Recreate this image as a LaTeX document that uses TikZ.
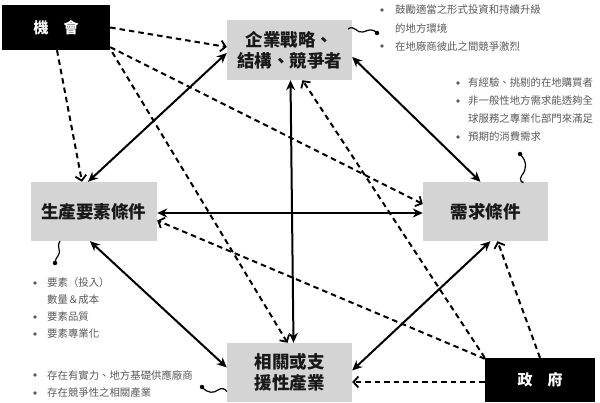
\documentclass[tikz,border=0pt]{standalone}
\usepackage{fontspec}
\newfontfamily\cjk{Noto Sans CJK TC}
\usetikzlibrary{arrows.meta,calc}
\definecolor{boxgray}{RGB}{212,212,212}
\definecolor{notegray}{RGB}{90,90,90}
\definecolor{labelink}{RGB}{25,25,25}
\tikzset{
  fbox/.style={fill=boxgray, draw=none, inner sep=0pt, font=\cjk\bfseries\fontsize{17.5}{21}\selectfont, text=labelink, align=center},
  bbox/.style={fill=black, draw=none, inner sep=0pt, text=white, font=\cjk\bfseries\fontsize{15}{18}\selectfont},
  link/.style={line width=2pt, {Stealth[length=10pt,width=9pt]}-{Stealth[length=10pt,width=9pt]}},
  infl/.style={line width=2pt, dash pattern=on 5.5pt off 4pt, -{Straight Barb[length=5pt,width=11pt,line width=1.8pt]}},
  note/.style={anchor=west, inner sep=0pt, font=\cjk\fontsize{10.4}{12}\selectfont, text=notegray},
  bul/.style={circle, fill=notegray, draw=none, inner sep=0pt, minimum size=3.8pt},
  tipdot/.style={circle, fill=black, draw=none, inner sep=0pt, minimum size=4.5pt},
  squig/.style={line width=1.2pt, black}
}
\begin{document}
\begin{tikzpicture}[x=1pt,y=-1pt]
\useasboundingbox (0,0) rectangle (600,402);
\fill[white] (0,0) rectangle (600,402);

% boxes
\node[bbox, minimum width=108pt, minimum height=45pt] (jh) at (56,27.5) {機　會};
\node[fbox, minimum width=125pt, minimum height=60pt] (qy) at (289.5,50) {企業戰略、\\結構、競爭者};
\node[fbox, minimum width=126pt, minimum height=59pt] (sc) at (94,211.5) {生產要素條件};
\node[fbox, minimum width=125pt, minimum height=59pt] (xq) at (485.5,211.5) {需求條件};
\node[fbox, minimum width=125pt, minimum height=59pt] (xg) at (289.5,372.5) {相關或支\\援性產業};
\node[bbox, minimum width=110pt, minimum height=44pt] (zf) at (540,380) {政　府};

% solid two-way links
\draw[link] ([yshift=-3pt]qy.west) -- ([xshift=-6pt]sc.north);
\draw[link] ([xshift=1pt]qy.south) -- ([xshift=4pt]xg.north);
\draw[link] ([yshift=-7pt]qy.east) -- ([xshift=-5pt]xq.north);
\draw[link] ([yshift=-1.5pt]sc.east) -- ([yshift=-1.5pt]xq.west);
\draw[link] ([xshift=-4pt]sc.south) -- ([yshift=5pt]xg.west);
\draw[link] ([xshift=5pt]xq.south) -- ([yshift=2pt]xg.east);

% dashed influences from 機會
\draw[infl] (jh.east) -- ([yshift=3pt]qy.west);
\draw[infl] ([xshift=1pt]jh.south) -- ([xshift=-12pt]sc.north);
\draw[infl] ([yshift=3pt]jh.south east) -- ([yshift=7.5pt]xq.west);
\draw[infl] ([xshift=2pt,yshift=-2pt]jh.south east) -- ([xshift=-2pt]xg.north);

% dashed influences from 政府
\draw[infl] (zf.north west) -- ([xshift=13pt]qy.south);
\draw[infl] ([yshift=-1pt]zf.north west) -- ([yshift=-9pt]sc.east);
\draw[infl] (zf.north) -- ([xshift=12pt]xq.south);
\draw[infl] ([yshift=-2pt]zf.west) -- ([yshift=-9.5pt]xg.east);

% note: 企業
\node[tipdot] (d1) at (377,33) {};
\draw[squig] ([xshift=-4pt,yshift=21pt]qy.east) .. controls (354,24) and (357,34) .. (363,32) .. controls (369,30) and (372,28) .. (d1.center);
\node[bul] (b1) at (382,10) {};
\node[note] (t1) at (395,10) {鼓勵適當之形式投資和持續升級};
\node[note] (t2) at (395,29) {的地方環境};
\node[bul] (b3) at (382,46) {};
\node[note] (t3) at (395,46) {在地廠商彼此之間競爭激烈};

% note: 需求
\node[tipdot] (d2) at (520,154) {};
\draw[squig] (d2.center) .. controls (527,161) and (527,169) .. (522,175) .. controls (518,180) and (523,184) .. ([xshift=38pt]xq.north);
\node[bul] (b4) at (458,83) {};
\node[note] (t4) at (468,83) {有經驗、挑剔的在地購買者};
\node[bul] (b5) at (458,101) {};
\node[note] (t5) at (468,101) {非一般性地方需求能透夠全};
\node[note] (t6) at (468,119) {球服務之專業化部門來滿足};
\node[bul] (b7) at (458,137) {};
\node[note] (t7) at (468,137) {預期的消費需求};

% note: 生產
\node[tipdot] (d3) at (55,263) {};
\draw[squig] ([xshift=-34pt]sc.south) .. controls (56,247) and (62,251) .. (58,256) .. controls (55,259) and (56,261) .. (d3.center);
\node[bul] (b8) at (35,283) {};
\node[note] (t8) at (47,283) {要素（投入）};
\node[note] (t9) at (47,300) {數量＆成本};
\node[bul] (b10) at (35,317) {};
\node[note] (t10) at (47,317) {要素品質};
\node[bul] (b11) at (35,334) {};
\node[note] (t11) at (47,334) {要素專業化};

% note: 相關
\node[tipdot] (d4) at (202,387) {};
\draw[squig] (d4.center) .. controls (208,394) and (214,393) .. (218,390) .. controls (222,387) and (225,389) .. ([yshift=-19pt]xg.west);
\node[bul] (b12) at (35,375) {};
\node[note] (t12) at (47,375) {存在有實力、地方基礎供應廠商};
\node[bul] (b13) at (35,393) {};
\node[note] (t13) at (47,393) {存在競爭性之相關產業};
\end{tikzpicture}
\end{document}
